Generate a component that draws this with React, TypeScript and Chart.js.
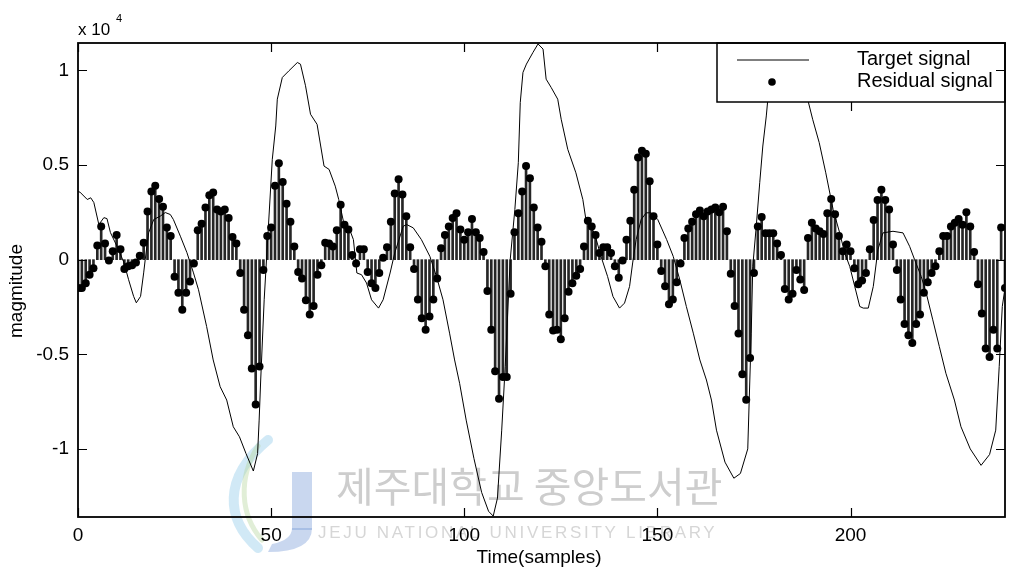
import React, { useEffect, useRef } from "react";
import { Chart, registerables } from "chart.js";

Chart.register(...registerables);

const xTickValues = [0, 50, 100, 150, 200];
const yTickValues = [-10000, -5000, 0, 5000, 10000];
const yTickLabels = ["-1", "-0.5", "0", "0.5", "1"];

const targetX = [
  0, 0.5, 2.4, 3.3, 4.1, 5.4, 6.7, 7.5, 8.4, 10.1, 11.9, 13.1, 14.4, 15.1, 16.2, 17.0, 17.4, 18.3, 19.6, 21.3,
  22.6, 23.9, 24.7, 26.5, 28.2, 29.9, 31.2, 33.3, 35.0, 36.8, 38.5, 40.2, 41.8, 43.5, 45.4, 46.5, 46.9, 47.3, 48.2, 50.3,
  51.2, 51.6, 52.9, 54.6, 56.8, 57.6, 58.9, 60.2, 61.9, 63.7, 65.0, 66.6, 67.5, 68.8, 70.0, 71.3, 72.2, 73.4, 74.7, 76.0,
  77.8, 79.0, 80.8, 82.0, 84.2, 85.1, 86.8, 88.9, 91.1, 92.8, 94.5, 96.2, 97.5, 98.8, 100.5, 102.5, 104.5, 106.3, 107.5, 108.6,
  109.7, 110.6, 111.9, 113.1, 114.0, 114.5, 115.2, 116.1, 117.8, 119.1, 120.4, 121.2, 122.5, 124.2, 125.1, 126.8, 128.9, 130.7, 131.5, 133.7,
  135.4, 137.1, 138.5, 140.2, 141.5, 142.8, 143.6, 144.5, 145.8, 147.1, 148.4, 150.1, 152.4, 154.1, 155.8, 157.5, 159.3, 161.0, 162.7, 164.0,
  165.3, 167.5, 169.8, 171.5, 173.4, 174.3, 174.7, 175.6, 176.5, 177.3, 178.2, 178.6, 180.5, 183.0, 186.0, 188.9, 190.2, 191.9, 193.6, 195.5,
  197.2, 198.5, 199.8, 201.1, 202.4, 203.3, 204.6, 205.9, 207.1, 208.4, 211.0, 213.6, 215.3, 216.6, 218.3, 219.6, 221.3, 223.0, 224.7, 226.9,
  228.6, 231.0, 233.8, 236.0, 237.6, 238.5, 239.3, 240,
];
const targetY = [
  3600, 3570, 3180, 3270, 3020, 1855, 2220, 2170, 1430, 705, -160, -1060, -1940, -2280, -1940, -700, 0, 1430, 2120, 2300,
  2490, 2385, 2120, 1240, 370, -700, -1590, -3530, -5300, -6710, -7420, -8830, -9360, -10250, -11170, -10250, -8480, -6360, -2120, 5300,
  7065, 8480, 9630, 9980, 10420, 10330, 9190, 7685, 7150, 4945, 4770, 3885, 3180, 1945, 1765, 1060, -705, -795, -1235, -2120,
  -2560, -2120, -705, 355, 1765, 1855, 1680, 1060, 175, -885, -2120, -3885, -5300, -6535, -8480, -10500, -12300, -13300, -13550, -12600,
  -9010, -5650, 0, 2650, 5125, 8300, 9895, 10335, 10955, 11400, 11130, 9540, 9100, 8480, 7420, 5830, 4590, 3180, 2120, 1415,
  175, -885, -1945, -2560, -2295, -1415, -175, 1060, 2120, 2475, 2475, 2120, 1060, 175, -1060, -2475, -3885, -5300, -6360, -7420,
  -9010, -10700, -11550, -11300, -10000, -3885, -355, 1765, 4065, 6005, 7595, 8480, 10300, 11100, 10500, 8480, 7420, 6185, 4590, 2650,
  1415, 355, -355, -1415, -2475, -2560, -2560, -1415, 530, 1415, 1500, 1415, 705, 0, -885, -1765, -3180, -4595, -6005, -7420,
  -8830, -10000, -10870, -10300, -9010, -5650, -2475, -1500,
];

const residualValues = [
  -1500, -1500, -1250, -800, -450, 750, 1750, 850, -50, 450,
  1300, 550, -500, -350, -300, -150, 200, 900, 2550, 3600,
  3900, 3200, 2800, 1700, 1250, -900, -1750, -2650, -1750, -1150,
  -200, 1550, 1900, 2750, 3400, 3550, 2650, 2550, 2650, 2200,
  1200, 850, -700, -2650, -4000, -5750, -7650, -5650, -550, 1250,
  1700, 3900, 5100, 4100, 2950, 2000, 700, -650, -1000, -2150,
  -2900, -2450, -800, -300, 900, 850, 700, 1550, 2900, 1850,
  1600, 250, -200, 550, 550, -650, -1250, -1500, -700, 100,
  650, 2000, 3500, 4250, 3450, 2300, 650, -500, -2100, -3100,
  -3700, -3000, -2100, -1000, 600, 1300, 1750, 2200, 2450, 1600,
  1050, 1450, 2150, 1450, 1150, 400, -1650, -3700, -5900, -7350,
  -6200, -6200, -1800, 1450, 2450, 3600, 4950, 4300, 2750, 1700,
  950, -350, -2900, -3750, -3700, -4200, -3100, -1700, -1250, -850,
  -500, 700, 2050, 1750, 1300, 350, 650, 650, 350, -350,
  -950, -50, 1050, 2050, 3700, 5400, 5750, 5600, 4150, 2300,
  800, -600, -1400, -2350, -2100, -1200, -200, 1150, 1650, 2000,
  2400, 2600, 2300, 2550, 2650, 2750, 2500, 2800, 1500, -750,
  -2450, -3900, -6050, -7400, -5200, -700, 1750, 2250, 1400, 1400,
  1400, 850, 250, -1550, -2100, -1800, -550, -1050, -1600, 1150,
  1950, 1650, 1500, 1350, 2450, 3200, 2400, 1250, 450, 800,
  450, -450, -1300, -1100, -700, 550, 2100, 3150, 3700, 3150,
  2650, 800, -550, -2100, -3400, -4000, -4400, -3400, -2900, -1750,
  -1200, -700, -350, 450, 1250, 1250, 1750, 1950, 2150, 1850,
  2500, 1750, 400, -1300, -2850, -4700, -5150, -3700, -4700, 1700,
  -1500,
];

const FONT = "'Liberation Sans', Arial, Helvetica, sans-serif";

const decorPlugin = {
  id: "decor",
  beforeDraw(chart: any) {
    const ctx = chart.ctx;
    ctx.save();
    ctx.fillStyle = "#ffffff";
    ctx.fillRect(0, 0, chart.width, chart.height);
    // watermark logo
    ctx.lineCap = "round";
    ctx.strokeStyle = "rgba(140,200,232,0.4)";
    ctx.lineWidth = 10;
    ctx.beginPath();
    ctx.moveTo(268, 440);
    ctx.bezierCurveTo(222, 478, 226, 520, 258, 548);
    ctx.stroke();
    ctx.strokeStyle = "rgba(180,212,155,0.4)";
    ctx.lineWidth = 5;
    ctx.beginPath();
    ctx.moveTo(258, 446);
    ctx.bezierCurveTo(238, 478, 240, 515, 262, 540);
    ctx.stroke();
    ctx.fillStyle = "rgba(120,155,215,0.4)";
    ctx.fillRect(292, 472, 20, 58);
    ctx.beginPath();
    ctx.moveTo(292, 528);
    ctx.quadraticCurveTo(292, 540, 272, 544);
    ctx.lineTo(268, 552);
    ctx.quadraticCurveTo(312, 552, 312, 528);
    ctx.closePath();
    ctx.fill();
    // watermark text
    ctx.fillStyle = "#cdcdcd";
    ctx.textBaseline = "middle";
    ctx.textAlign = "left";
    ctx.font = "41px 'Noto Sans CJK KR'";
    ctx.fillText("제주대학교 중앙도서관", 336, 486);
    ctx.fillStyle = "#d6d6d6";
    ctx.font = `17px ${FONT}`;
    try {
      (ctx as any).letterSpacing = "2.7px";
    } catch (e) {}
    ctx.fillText("JEJU NATIONAL UNIVERSITY LIBRARY", 318, 533);
    try {
      (ctx as any).letterSpacing = "0px";
    } catch (e) {}
    ctx.restore();
  },
  afterDatasetsDraw(chart: any) {
    const ctx = chart.ctx;
    const { left, right, top, bottom } = chart.chartArea;
    const xs = chart.scales.x;
    const ys = chart.scales.y;
    ctx.save();
    // legend box
    const lx = 717;
    const ly = top;
    const lw = right - lx;
    const lh = 59;
    ctx.fillStyle = "#ffffff";
    ctx.fillRect(lx, ly, lw, lh);
    ctx.strokeStyle = "#000";
    ctx.lineWidth = 1.5;
    ctx.strokeRect(lx, ly, lw, lh);
    ctx.lineWidth = 1;
    ctx.beginPath();
    ctx.moveTo(737, ly + 17);
    ctx.lineTo(809, ly + 17);
    ctx.stroke();
    ctx.fillStyle = "#000";
    ctx.beginPath();
    ctx.arc(772, ly + 39, 3.8, 0, Math.PI * 2);
    ctx.fill();
    ctx.font = `20px ${FONT}`;
    ctx.textBaseline = "middle";
    ctx.textAlign = "left";
    ctx.fillText("Target signal", 857, ly + 16);
    ctx.fillText("Residual signal", 857, ly + 38);
    // axes box
    ctx.lineWidth = 1.8;
    ctx.strokeRect(left, top, right - left, bottom - top);
    // inward ticks
    ctx.lineWidth = 1.2;
    const tl = 9;
    ctx.beginPath();
    xTickValues.forEach((v) => {
      const px = Math.round(xs.getPixelForValue(v)) + 0.5;
      ctx.moveTo(px, bottom);
      ctx.lineTo(px, bottom - tl);
      if (px < lx || px > right) {
        ctx.moveTo(px, top);
        ctx.lineTo(px, top + tl);
      } else {
        ctx.moveTo(px, top + lh);
        ctx.lineTo(px, top + lh + tl);
      }
    });
    yTickValues.forEach((v) => {
      const py = Math.round(ys.getPixelForValue(v)) + 0.5;
      ctx.moveTo(left, py);
      ctx.lineTo(left + tl, py);
      ctx.moveTo(right, py);
      ctx.lineTo(right - tl, py);
    });
    ctx.stroke();
    ctx.restore();
  },
  afterDraw(chart: any) {
    const ctx = chart.ctx;
    ctx.save();
    ctx.fillStyle = "#000";
    ctx.textBaseline = "middle";
    ctx.textAlign = "center";
    ctx.font = `19px ${FONT}`;
    ctx.fillText("Time(samples)", 539, 558);
    ctx.save();
    ctx.translate(17, 291);
    ctx.rotate(-Math.PI / 2);
    ctx.fillText("magmitude", 0, 0);
    ctx.restore();
    ctx.textAlign = "left";
    ctx.font = `17px ${FONT}`;
    ctx.fillText("x 10", 78, 30);
    ctx.font = `11px ${FONT}`;
    ctx.fillText("4", 116, 19);
    ctx.restore();
  },
};

export default function App() {
  const canvasRef = useRef<HTMLCanvasElement>(null);

  useEffect(() => {
    const canvas = canvasRef.current;
    if (!canvas) return;
    const points = residualValues.map((v, i) => ({ x: i, y: v }));
    const chart = new Chart(canvas, {
      type: "line",
      data: {
        datasets: [
          {
            type: "line",
            label: "Target signal",
            data: targetX.map((x, i) => ({ x, y: targetY[i] })),
            borderColor: "#000",
            borderWidth: 1,
            pointRadius: 0,
            tension: 0,
            order: 0,
          } as any,
          {
            type: "scatter",
            label: "Residual signal",
            data: points,
            pointRadius: 4,
            pointBackgroundColor: "#000",
            pointBorderColor: "#000",
            pointBorderWidth: 0,
            showLine: false,
            order: 1,
          } as any,
          {
            type: "bar",
            label: "stems",
            data: points,
            backgroundColor: "#262626",
            barThickness: 2,
            order: 2,
          } as any,
        ],
      },
      options: {
        responsive: false,
        devicePixelRatio: 1,
        animation: false,
        events: [],
        layout: { padding: { top: 43, right: 1, left: 0, bottom: 0 } },
        plugins: { legend: { display: false }, tooltip: { enabled: false } },
        scales: {
          x: {
            type: "linear",
            min: 0,
            max: 240,
            offset: false,
            afterBuildTicks: (s: any) => {
              s.ticks = xTickValues.map((v) => ({ value: v }));
            },
            afterFit: (s: any) => {
              s.height = 55;
            },
            grid: { display: false, drawTicks: false },
            border: { display: false },
            ticks: {
              color: "#000",
              font: { family: FONT, size: 19 },
              padding: 7,
              maxRotation: 0,
              autoSkip: false,
            },
          },
          y: {
            type: "linear",
            min: -13600,
            max: 11450,
            afterBuildTicks: (s: any) => {
              s.ticks = yTickValues.map((v) => ({ value: v }));
            },
            afterFit: (s: any) => {
              s.width = 78;
            },
            grid: { display: false, drawTicks: false },
            border: { display: false },
            ticks: {
              color: "#000",
              font: { family: FONT, size: 19 },
              padding: 9,
              autoSkip: false,
              callback: (v: any) => {
                const k = yTickValues.indexOf(Number(v));
                return k >= 0 ? yTickLabels[k] : "";
              },
            },
          },
        },
      } as any,
      plugins: [decorPlugin],
    });
    return () => chart.destroy();
  }, []);

  return (
    <div style={{ position: "fixed", left: 0, top: 0, width: 1009, height: 572, background: "#fff" }}>
      <canvas ref={canvasRef} width={1009} height={572} style={{ display: "block" }} />
    </div>
  );
}
